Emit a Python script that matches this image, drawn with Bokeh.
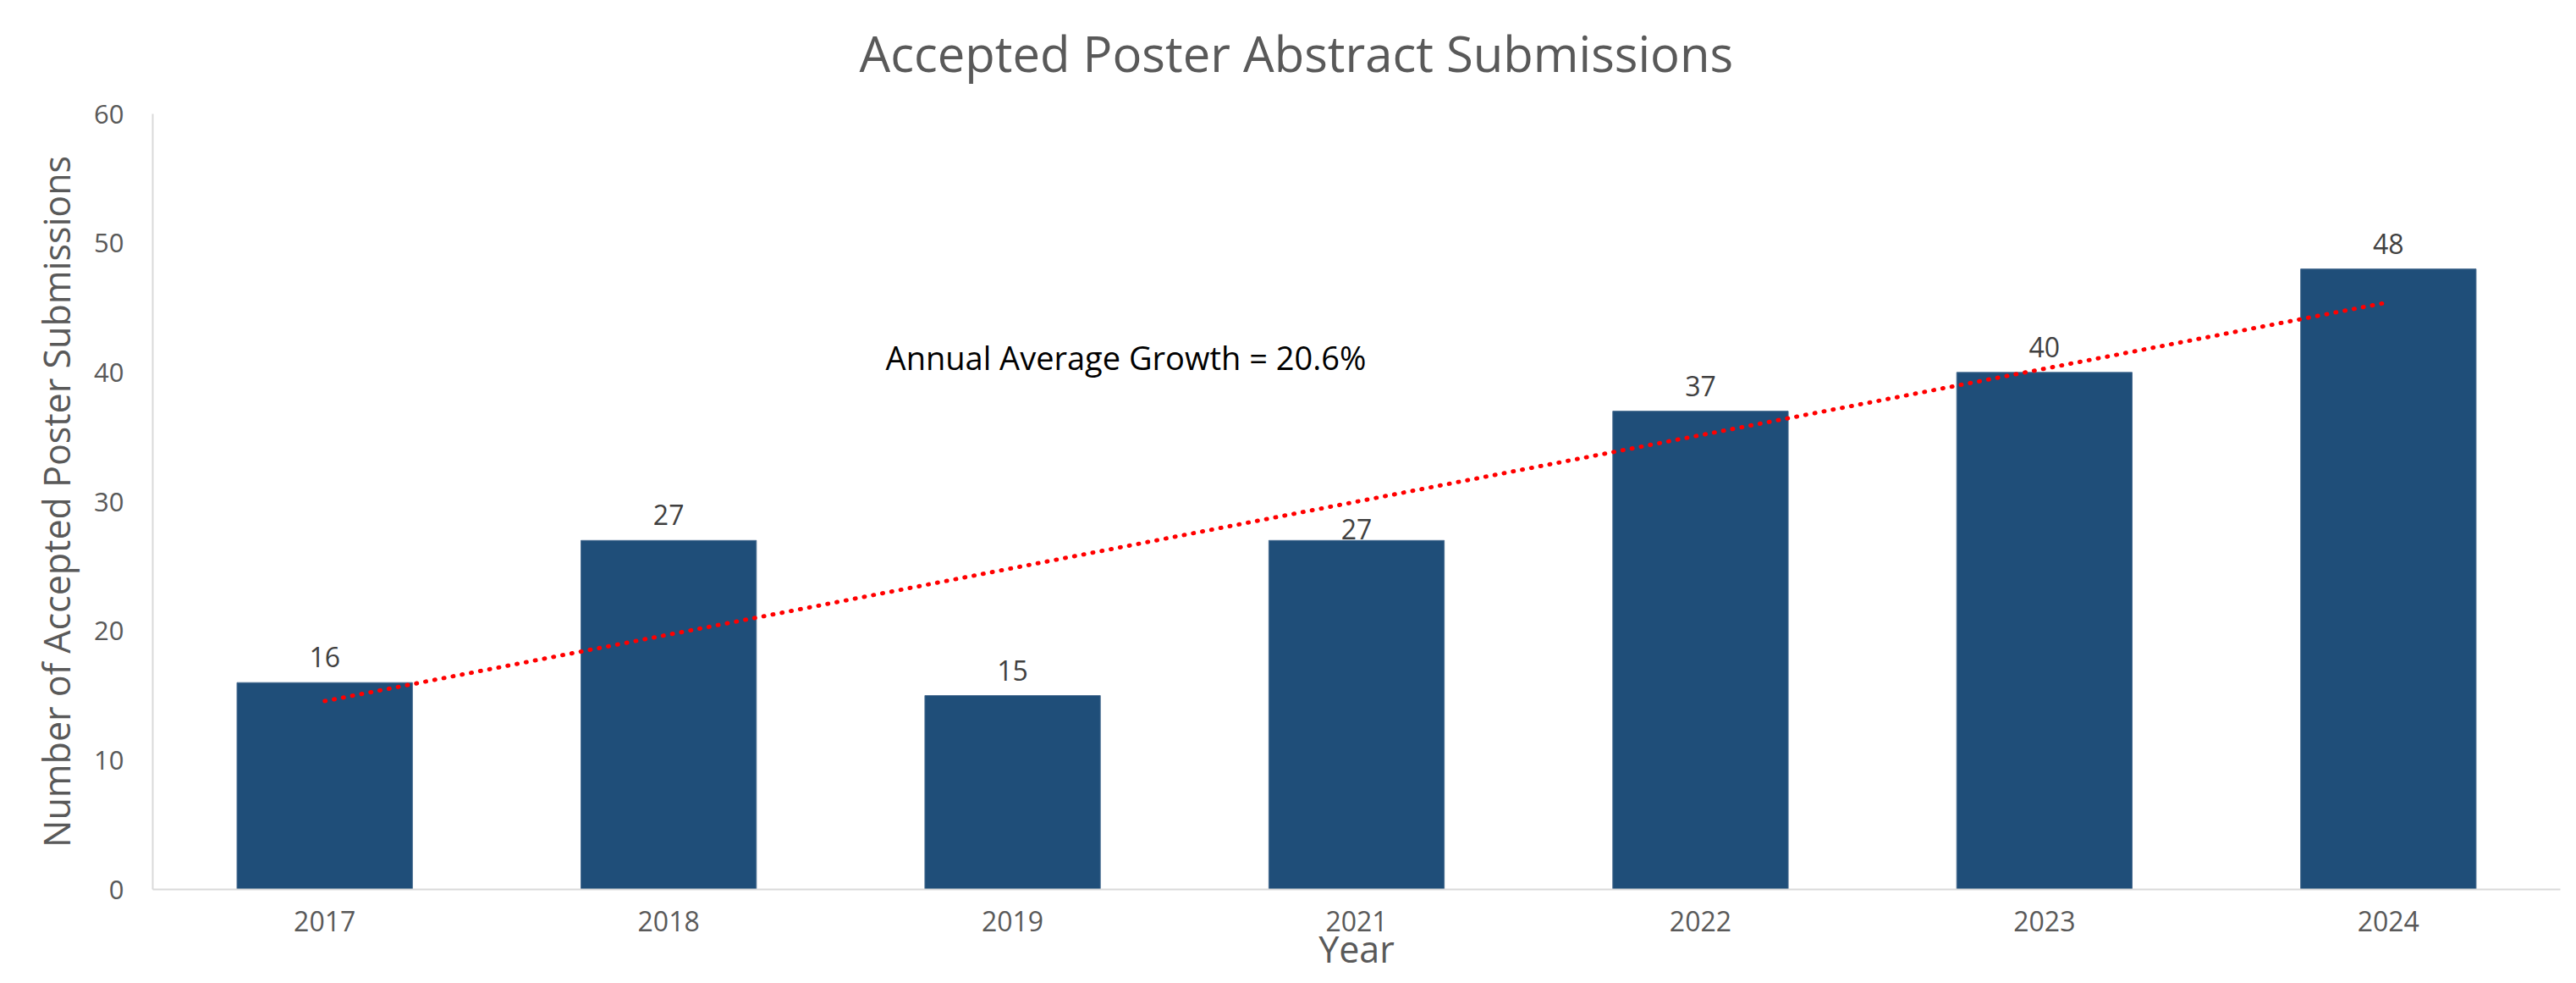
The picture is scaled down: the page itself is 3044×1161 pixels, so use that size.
import numpy as np
from bokeh.plotting import figure
from bokeh.models import ColumnDataSource, FixedTicker, Label, LabelSet, FactorRange, Range1d, Title
from bokeh.core.properties import value
from bokeh.embed import file_html
from bokeh.resources import INLINE

# ---- data ----
years = ["2017", "2018", "2019", "2021", "2022", "2023", "2024"]
submissions = [16, 27, 15, 27, 37, 40, 48]
y_ticks = [0, 10, 20, 30, 40, 50, 60]
title_text = "Accepted Poster Abstract Submissions"
x_label = "Year"
y_label = "Number of Accepted Poster Submissions"
annotation_text = "Annual Average Growth = 20.6%"

# ---- styling (pixel lift of each value label above its bar) ----
label_lift_px = [18, 18, 18, 1, 18, 18, 18]

# linear trendline (least squares, as in the original spreadsheet chart)
idx = np.arange(len(submissions))
slope, intercept = np.polyfit(idx, submissions, 1)
trend = (intercept + slope * idx).tolist()

FONT = "Open Sans"
GREY = "#595959"

src = ColumnDataSource(dict(
    year=years,
    count=submissions,
    label=[str(v) for v in submissions],
    lift=label_lift_px,
))

p = figure(
    x_range=FactorRange(factors=years),
    y_range=Range1d(0, 60),
    width=3044, height=1161,
    output_backend="svg", toolbar_location=None,
    min_border_left=180, min_border_right=19,
    min_border_top=134, min_border_bottom=111,
    background_fill_color="white", border_fill_color="white",
)
p.outline_line_color = None
p.xgrid.visible = False
p.ygrid.visible = False

# title (outermost) + a thin spacer between it and the plot area
p.title.text = title_text
p.title.align = "left"
p.title.offset = 835
p.title.vertical_align = "bottom"
p.title.standoff = 0
p.title.text_font = FONT
p.title.text_font_size = "58px"
p.title.text_font_style = "normal"
p.title.text_color = GREY
p.add_layout(Title(text=" ", text_font_size="1px", standoff=30), "above")

p.vbar(x="year", top="count", width=0.51, source=src,
       fill_color="#1F4E79", line_color="#4A6D91", line_width=1)

p.line(x=years, y=trend, line_color="#FF0000", line_width=5,
       line_dash="1 10", line_cap="round")

labels = LabelSet(x="year", y="count", text="label", y_offset="lift", source=src,
                  text_align="center", text_baseline="alphabetic",
                  text_font=value(FONT), text_font_size=value("32px"),
                  text_color="#404040")
p.add_layout(labels)

p.add_layout(Label(x=2.131, y=41.2, text=annotation_text, text_align="left",
                   text_baseline="alphabetic", text_font=FONT,
                   text_font_size="38px", text_color="#000000"))

# x axis
xa = p.xaxis[0]
xa.axis_label = x_label
xa.axis_label_text_font = FONT
xa.axis_label_text_font_size = "43px"
xa.axis_label_text_font_style = "normal"
xa.axis_label_text_color = GREY
xa.axis_label_standoff = -12
xa.major_label_text_font = FONT
xa.major_label_text_font_size = "32px"
xa.major_label_text_color = GREY
xa.major_label_standoff = 19
xa.major_tick_line_color = None
xa.minor_tick_line_color = None
xa.axis_line_color = "#D9D9D9"
xa.axis_line_width = 2

# y axis
ya = p.yaxis[0]
ya.ticker = FixedTicker(ticks=y_ticks)
ya.axis_label = y_label
ya.axis_label_text_font = FONT
ya.axis_label_text_font_size = "43px"
ya.axis_label_text_font_style = "normal"
ya.axis_label_text_color = GREY
ya.axis_label_standoff = 12
ya.major_label_text_font = FONT
ya.major_label_text_font_size = "31px"
ya.major_label_text_color = GREY
ya.major_label_standoff = 28
ya.major_tick_line_color = None
ya.minor_tick_line_color = None
ya.axis_line_color = "#D9D9D9"
ya.axis_line_width = 2

open("out.html", "w").write(file_html(p, INLINE))
